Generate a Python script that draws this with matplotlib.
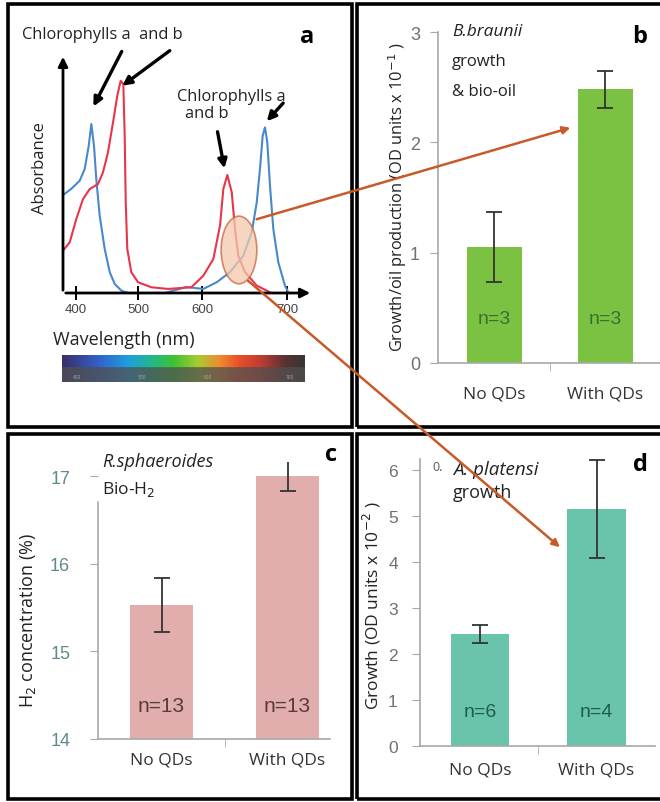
import numpy as np
import matplotlib
matplotlib.use("Agg")
import matplotlib.pyplot as plt
from matplotlib.patches import Rectangle, Ellipse, FancyArrowPatch
from matplotlib.colors import LinearSegmentedColormap, to_rgb

# ---- data ----
# panel a: absorbance spectra
blue_wl = [379, 392, 406, 414, 420.5, 424.7, 429, 432.7, 438.2, 446.3, 454.4, 462.4, 473.1, 484,
           542, 575, 601.5, 617.3, 632.9, 648.6, 658.5, 664.4, 668.2, 671.4, 674.1, 676.8, 680,
           683.9, 689.8, 697.6, 701.5]
blue_abs = [0.41, 0.435, 0.47, 0.519, 0.616, 0.707, 0.616, 0.477, 0.323, 0.184, 0.087, 0.038, 0.01, 0.0,
            0.0, 0.025, 0.017, 0.045, 0.087, 0.156, 0.254, 0.379, 0.519, 0.658, 0.693, 0.631, 0.449,
            0.268, 0.128, 0.031, 0.003]
red_wl = [379, 389.8, 400.5, 411.3, 422.1, 435.5, 443.5, 451.6, 459.7, 466.6, 472.1, 476.3, 478.5,
          480.2, 482.7, 489.2, 500, 520.8, 546.9, 583.3, 601.5, 613.3, 621.2, 625.1, 629.8, 635,
          638.8, 642.7, 650.6, 664.4, 680]
red_abs = [0.177, 0.212, 0.31, 0.393, 0.435, 0.456, 0.505, 0.589, 0.714, 0.826, 0.888, 0.874, 0.658,
           0.379, 0.184, 0.087, 0.045, 0.024, 0.017, 0.024, 0.072, 0.142, 0.282, 0.435, 0.494, 0.421,
           0.268, 0.156, 0.087, 0.031, 0.003]
wl_ticks = [400, 500, 600, 700]

groups = ["No QDs", "With QDs"]
# panel b
b_vals = [1.05, 2.48]
b_err = [0.32, 0.17]
b_n = ["n=3", "n=3"]
# panel c
c_vals = [15.53, 17.0]
c_err = [0.31, 0.17]
c_n = ["n=13", "n=13"]
# panel d
d_vals = [2.43, 5.15]
d_err = [0.2, 1.07]
d_n = ["n=6", "n=4"]

narrow = "Liberation Sans"
plt.rcParams["font.family"] = ["Open Sans", "DejaVu Sans"]

W, H = 660, 803
fig = plt.figure(figsize=(W / 100, H / 100), dpi=100)


def fx(x):
    return x / W


def fy(y):
    return 1 - y / H


def px_axes(left, top, right, bottom):
    return fig.add_axes([left / W, 1 - bottom / H, (right - left) / W, (bottom - top) / H])


def ftext(x, y, s, **kw):
    kw.setdefault("va", "center")
    fig.text(fx(x), fy(y), s, **kw)


# ---------------- panel a ----------------
wl_knots = [0, 370, 400, 500, 600, 700, 740, 2000]
px_knots = [-172, 57.4, 76, 138, 202, 287, 321, 1392]
ax = px_axes(63, 55, 313, 294)
ax.set_xscale("function", functions=(lambda v: np.interp(v, wl_knots, px_knots),
                                     lambda v: np.interp(v, px_knots, wl_knots)))
ax.plot(blue_wl, blue_abs, color="#4a88cc", lw=1.5, clip_on=False, solid_joinstyle="round")
ax.plot(red_wl, red_abs, color="#e8354a", lw=1.5, clip_on=False, solid_joinstyle="round")
ax.set_xlim(379, 730.6)
ax.set_ylim(0, 1)
for s in ax.spines.values():
    s.set_visible(False)
ax.set_yticks([])
ax.set_xticks(wl_ticks)
ax.tick_params(axis="x", direction="inout", length=10, width=1.4, pad=2,
               labelsize=9.5, labelcolor="#444444")
for lab in ax.get_xticklabels():
    lab.set_fontfamily(narrow)
ax.annotate("", xy=(1, 0), xytext=(0, 0), xycoords="axes fraction",
            arrowprops=dict(arrowstyle="-|>", color="black", lw=2, mutation_scale=14))
ax.annotate("", xy=(0, 1), xytext=(0, 0), xycoords="axes fraction",
            arrowprops=dict(arrowstyle="-|>", color="black", lw=2, mutation_scale=14))
ax.add_patch(Ellipse((643.5, 0.18), 42, 0.283, facecolor="#f3c9ad", alpha=0.75,
                     edgecolor="#c8643c", lw=1.2, zorder=3))

peak_arrows = [((123, 50), (426, 0.77)), ((172, 50), (471, 0.86)),
               ((217, 130), (627, 0.51)), ((285, 102), (674, 0.71))]
for (tx, ty), xy in peak_arrows:
    ax.annotate("", xy=xy, xytext=(fx(tx), fy(ty)), textcoords="figure fraction",
                arrowprops=dict(arrowstyle="-|>", color="black", lw=2.4, mutation_scale=13),
                annotation_clip=False)

ftext(22, 35, "Chlorophylls a  and b", fontsize=11.8, color="#222222")
ftext(307, 37, "a", fontsize=17, fontweight="bold", ha="center")
ftext(177, 97, "Chlorophylls a", fontsize=11.8, color="#222222")
ftext(185, 114, "and b", fontsize=11.8, color="#222222")
ftext(40, 168, "Absorbance", fontsize=12, rotation=90, ha="center", color="#222222")
ftext(53, 340, "Wavelength (nm)", fontsize=13, color="#222222")

# spectrum strip
spec = LinearSegmentedColormap.from_list("spec", [
    (0.0, "#3a2f6b"), (0.15, "#3262c8"), (0.27, "#1f9ee0"), (0.37, "#22b88a"),
    (0.46, "#3ec232"), (0.56, "#aacc30"), (0.65, "#f08a30"), (0.73, "#e8502a"),
    (0.82, "#c03c32"), (0.92, "#5a3232"), (1.0, "#3a3434")])
cols = spec(np.linspace(0, 1, 300))[:, :3]
gray = np.array(to_rgb("#505050"))
rows = []
for t in np.linspace(0, 1, 20):
    m = 0.0 if t < 0.45 else 0.75
    rows.append(cols * (1 - m) + gray * m)
sax = px_axes(62, 356, 305, 383)
sax.imshow(np.array(rows), aspect="auto", extent=(0, 1, 0, 1))
sax.set_axis_off()
for xx, s in zip([0.06, 0.33, 0.6, 0.94], ["400", "500", "600", "700"]):
    sax.text(xx, 0.2, s, fontsize=3.5, color="#aaaaaa", ha="center", va="center")


def bar_panel(left, top, right, bottom, xlim, ylim, vals, errs, color, ns, n_y, ncolor, nsize,
              yticks, label_pad, xlab_pad, tick_color, tick_size):
    a = px_axes(left, top, right, bottom)
    a.bar([0, 1], vals, width=0.5, color=color, zorder=2)
    a.errorbar([0, 1], vals, yerr=errs, fmt="none", ecolor="#333333", elinewidth=1.3,
               capsize=6, capthick=1.3, zorder=3)
    for i, s in enumerate(ns):
        a.text(i, n_y, s, ha="center", va="center", fontsize=nsize, color=ncolor,
               fontfamily=narrow, zorder=4)
    a.set_xlim(*xlim)
    a.set_ylim(*ylim)
    a.spines["top"].set_visible(False)
    a.spines["right"].set_visible(False)
    for s in ["left", "bottom"]:
        a.spines[s].set_color("#a8a8a8")
        a.spines[s].set_linewidth(1.2)
    a.set_yticks(yticks)
    a.tick_params(axis="y", length=6, color="#a8a8a8", pad=label_pad, labelsize=tick_size,
                  labelcolor=tick_color)
    for lab in a.get_yticklabels():
        lab.set_fontfamily(narrow)
    a.set_xticks([0, 1], groups)
    a.tick_params(axis="x", length=0, pad=xlab_pad, labelsize=12.5, labelcolor="#333333")
    a.set_xticks([0.5], minor=True)
    a.tick_params(axis="x", which="minor", length=6, color="#a8a8a8")
    a.patch.set_alpha(0)
    return a


# ---------------- panel b ----------------
bar_panel(438, 33, 660, 364, (-0.509, 1.491), (0, 3), b_vals, b_err, "#7cc242",
          b_n, 0.4, "#3e6e2e", 14, [0, 1, 2, 3], 7, 16, "#707070", 13)
ftext(398, 197, "Growth/oil production (OD units x 10$^{-1}$ )", rotation=90,
      ha="center", fontsize=11.8, color="#222222")
ftext(452, 32, "B.braunii", fontsize=12.5, style="italic", color="#222222")
ftext(452, 62, "growth", fontsize=12, color="#222222")
ftext(452, 92, "& bio-oil", fontsize=12, color="#222222")
ftext(640, 37, "b", fontsize=17, fontweight="bold", ha="center")

# ---------------- panel c ----------------
ac = bar_panel(98, 463, 330, 740, (-0.504, 1.337), (14, 17.16), c_vals, c_err, "#e2adad",
               c_n, 14.38, "#5a3a3a", 15, [14, 15, 16, 17], 14, 9, "#5f8a8c", 13)
ac.spines["left"].set_bounds(14, 16.7)
ftext(28, 620, "H$_2$ concentration (%)", rotation=90, ha="center", fontsize=13,
      color="#222222")
ftext(102, 462, "R.sphaeroides", fontsize=13, style="italic", color="#222222")
ftext(102, 490, "Bio-H$_2$", fontsize=12.5, color="#222222")
ftext(331, 455, "c", fontsize=17, fontweight="bold", ha="center")

# ---------------- panel d ----------------
bar_panel(420, 460, 655, 747, (-0.515, 1.502), (0, 6.24), d_vals, d_err, "#6ac4ab",
          d_n, 0.74, "#1e5e50", 14, [0, 1, 2, 3, 4, 5, 6], 10, 11, "#707070", 12.5)
ftext(372, 606, "Growth (OD units x 10$^{-2}$ )", rotation=90, ha="center", fontsize=12.5,
      color="#222222")
ftext(432, 468, "0.", fontsize=9, color="#555555")
ftext(453, 470, "A. platensi", fontsize=13.5, style="italic", color="#222222")
ftext(453, 493, "growth", fontsize=13, color="#222222")
ftext(640, 465, "d", fontsize=17, fontweight="bold", ha="center")

# ---------------- panel frames ----------------
for (l, t, r, b) in [(8, 5, 352, 428), (357, 5, 664, 428), (8, 435, 352, 800), (357, 435, 664, 800)]:
    fig.add_artist(Rectangle((fx(l), fy(b)), (r - l) / W, (b - t) / H, fill=False,
                             edgecolor="black", lw=2.6, transform=fig.transFigure,
                             clip_on=False))

# ---------------- orange linking arrows ----------------
for (x0, y0), (x1, y1) in [((254, 221), (573, 128)), ((246, 280), (562, 550))]:
    fig.add_artist(FancyArrowPatch((fx(x0), fy(y0)), (fx(x1), fy(y1)),
                                   transform=fig.transFigure, arrowstyle="-|>",
                                   mutation_scale=11, color="#c85a2a", lw=1.8, zorder=10))

fig.savefig("out.png", dpi=100)
